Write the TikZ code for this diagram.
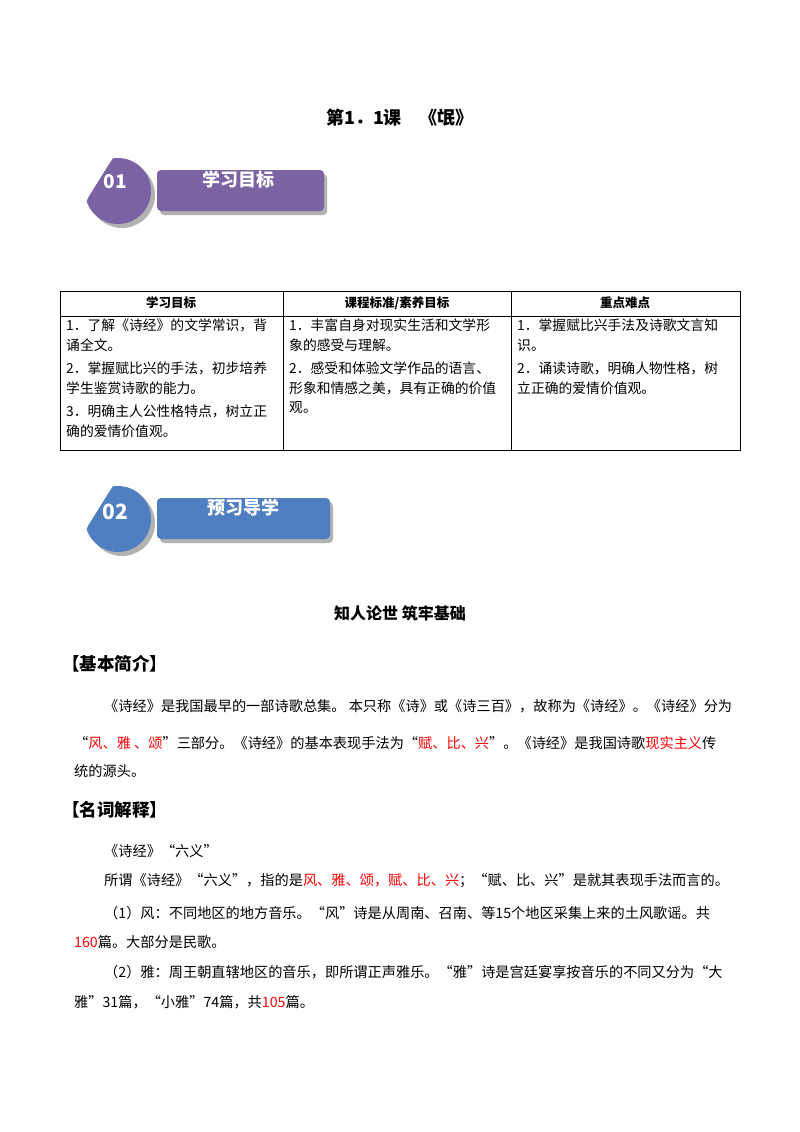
\documentclass[tikz,border=0pt]{standalone}
\usepackage{fontspec}
\setmainfont{Noto Sans CJK SC}
\begin{document}
\begin{tikzpicture}[x=1pt,y=-1pt,
  tx/.style={anchor=west,inner sep=0pt,font=\fontsize{14.2}{16}\selectfont},
  cell/.style={anchor=north west,inner sep=0pt,font=\fontsize{13.8}{19.5}\selectfont,align=left},
  hd/.style={inner sep=0pt,font=\bfseries\fontsize{12.5}{14}\selectfont},
  sec/.style={anchor=west,inner sep=0pt,font=\bfseries\fontsize{17.5}{19}\selectfont}]
\useasboundingbox (0,0) rectangle (800,1132);
\definecolor{pur}{HTML}{7B62A3}\definecolor{blu}{HTML}{4F7FC0}
\node[inner sep=0pt,font=\bfseries\fontsize{18}{20}\selectfont] (title) at (400,118) {第1．1课\quad《氓》};
% badge 01
\begin{scope}
\clip (88,198) -- (113,158) -- (170,150) -- (170,240) -- (70,240) -- cycle;
\fill[gray!60] (122,195) circle[radius=33];
\fill[pur] (118,191) circle[radius=33];
\end{scope}
\fill[gray!60,rounded corners=4] (160,174) rectangle (327,215);
\fill[pur,rounded corners=4] (157,170) rectangle (324,211);
\node[inner sep=0pt,text=white,font=\bfseries\fontsize{19}{20}\selectfont] (n1) at (115,182) {01};
\node[inner sep=0pt,text=white,font=\bfseries\fontsize{18}{19}\selectfont] (b1) at (238,180) {学习目标};
% badge 02
\begin{scope}[shift={(0,328)}]
\begin{scope}
\clip (88,198) -- (113,158) -- (170,150) -- (170,240) -- (70,240) -- cycle;
\fill[gray!60] (122,195) circle[radius=33];
\fill[blu] (118,191) circle[radius=33];
\end{scope}
\fill[gray!60,rounded corners=4] (160,174) rectangle (333,215);
\fill[blu,rounded corners=4] (157,170) rectangle (330,211);
\node[inner sep=0pt,text=white,font=\bfseries\fontsize{21}{22}\selectfont] (n2) at (115,184) {02};
\node[inner sep=0pt,text=white,font=\bfseries\fontsize{18}{19}\selectfont] (b2) at (243,180) {预习导学};
\end{scope}
% table
\draw[line width=0.8pt] (60,291) rectangle (740,450);
\draw[line width=0.6pt] (60,316) -- (740,316) (283,291) -- (283,450) (511,291) -- (511,450);
\node[hd] (h1) at (171,303) {学习目标};
\node[hd] (h2) at (397,303) {课程标准/素养目标};
\node[hd] (h3) at (625,303) {重点难点};
\node[cell] (c1) at (66,319) {1．了解《诗经》的文学常识，背\\诵全文。\\[4pt]2．掌握赋比兴的手法，初步培养\\学生鉴赏诗歌的能力。\\[4pt]3．明确主人公性格特点，树立正\\确的爱情价值观。};
\node[cell] (c2) at (289,319) {1．丰富自身对现实生活和文学形\\象的感受与理解。\\[4pt]2．感受和体验文学作品的语言、\\形象和情感之美，具有正确的价值\\观。};
\node[cell] (c3) at (517,319) {1．掌握赋比兴手法及诗歌文言知\\识。\\[4pt]2．诵读诗歌，明确人物性格，树\\立正确的爱情价值观。};
% text
\node[inner sep=0pt,font=\bfseries\fontsize{16}{18}\selectfont] (sub) at (400,613) {知人论世\ 筑牢基础};
\node[sec] (s1) at (62,664) {【基本简介】};
\node[tx] (l1) at (104,706) {《诗经》是我国最早的一部诗歌总集。 本只称《诗》或《诗三百》，故称为《诗经》。《诗经》分为};
\node[tx] (l2) at (74,743) {“\textcolor{red}{风、雅 、颂}”三部分。《诗经》的基本表现手法为“\textcolor{red}{赋、比、兴}”。《诗经》是我国诗歌\textcolor{red}{现实主义}传};
\node[tx] (l3) at (74,771) {统的源头。};
\node[sec] (s2) at (62,810) {【名词解释】};
\node[tx] (l4) at (104,851) {《诗经》“六义”};
\node[tx] (l5) at (104,881) {所谓《诗经》“六义”，指的是\textcolor{red}{风、雅、颂，赋、比、兴}；“赋、比、兴”是就其表现手法而言的。};
\node[tx] (l6) at (104,913) {（1）风：不同地区的地方音乐。“风”诗是从周南、召南、等15个地区采集上来的土风歌谣。共};
\node[tx] (l7) at (74,942) {\textcolor{red}{160}篇。大部分是民歌。};
\node[tx] (l8) at (104,972) {（2）雅：周王朝直辖地区的音乐，即所谓正声雅乐。“雅”诗是宫廷宴享按音乐的不同又分为“大};
\node[tx] (l9) at (74,1002) {雅”31篇，“小雅”74篇，共\textcolor{red}{105}篇。};
\end{tikzpicture}
\end{document}
